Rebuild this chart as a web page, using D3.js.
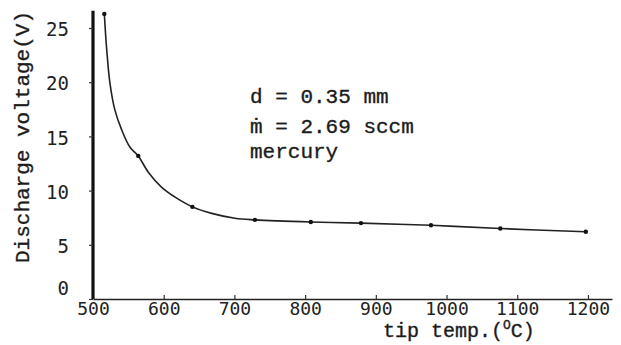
<!DOCTYPE html>
<html>
<head>
<style>
  body {
    margin: 0;
    background-color: #ffffff;
  }

  .tick-label {
    font-family: "DejaVu Sans Mono", monospace;
    font-size: 19px;
    fill: #222;
  }

  .type {
    font-family: "Liberation Mono", "DejaVu Sans Mono", monospace;
    font-size: 21px;
    fill: #1c1c1c;
    stroke: #1c1c1c;
    stroke-width: 0.35px;
  }
</style>
  <script src="https://d3js.org/d3.v7.min.js"></script>
</head>
<body>
<script>
  // measured points (dots on the curve)
  const tipTemp = [516, 564, 640.5, 729, 808, 879, 978, 1076, 1197];
  const voltage = [26.3, 13.2, 8.5, 7.3, 7.1, 7.0, 6.8, 6.5, 6.2];

  const traceTemp = [519.4, 524, 531.1, 540.6, 552.3, 578.2, 597.2, 618.4, 667.9, 700.8];
  const traceVolt = [23.0, 19.9, 17.4, 15.6, 14.0, 11.7, 10.3, 9.3, 7.9, 7.45];

  const xTicks = [500, 600, 700, 800, 900, 1000, 1100, 1200];
  const yTicks = [0, 5, 10, 15, 20, 25];

  const notes = ['d = 0.35 mm', '\u1E41 = 2.69 sccm', 'mercury'];

  const width = 621;
  const height = 345;

  const svg = d3.select('body')
    .append('svg')
    .attr('width', width)
    .attr('height', height);

  const x = d3.scaleLinear()
    .domain([500, 1234])
    .range([93, 612]);

  const y = d3.scaleLinear()
    .domain([0, 25])
    .range([299, 28]);

  // x axis, ticks pointing up into the plot
  const xAxis = svg.append('g')
    .attr('transform', `translate(0,${y(0)})`)
    .call(d3.axisBottom(x)
      .tickValues(xTicks)
      .tickFormat(d3.format('d'))
      .tickSize(-4)
      .tickSizeOuter(0)
      .tickPadding(5));

  xAxis.select('.domain')
    .attr('stroke', '#222')
    .attr('stroke-width', 1.6);

  xAxis.selectAll('.tick line')
    .attr('stroke', '#333')
    .attr('stroke-width', 1.2);

  xAxis.selectAll('.tick text')
    .attr('class', 'tick-label')
    .attr('fill', null)
    .attr('font-size', null)
    .attr('font-family', null)
    .style('font-size', '18px')
    .attr('dy', '0.62em');

  // y axis, the heavy vertical line
  const yAxis = svg.append('g')
    .attr('transform', `translate(${x(500)},0)`)
    .call(d3.axisLeft(y)
      .tickValues(yTicks)
      .tickFormat(d3.format('d'))
      .tickSize(4)
      .tickSizeOuter(0)
      .tickPadding(20));

  yAxis.select('.domain')
    .attr('d', `M0,${y(26.6)}V${y(0)}`)
    .attr('stroke', '#111')
    .attr('stroke-width', 3.2);

  yAxis.selectAll('.tick line')
    .attr('stroke', '#333')
    .attr('stroke-width', 1.2);

  yAxis.selectAll('.tick text')
    .attr('class', 'tick-label')
    .attr('fill', null)
    .attr('font-size', null)
    .attr('font-family', null)
    .attr('dy', d => d === 0 ? '-0.25em' : '0.4em');

  // curve through dots and traced points
  const curvePts = tipTemp.map((t, i) => [t, voltage[i]])
    .concat(traceTemp.map((t, i) => [t, traceVolt[i]]))
    .sort((a, b) => a[0] - b[0]);

  const line = d3.line()
    .x(d => x(d[0]))
    .y(d => y(d[1]))
    .curve(d3.curveCatmullRom.alpha(0.5));

  svg.append('path')
    .datum(curvePts)
    .attr('d', line)
    .attr('fill', 'none')
    .attr('stroke', '#222')
    .attr('stroke-width', 1.6);

  svg.selectAll('.dot')
    .data(tipTemp)
    .join('circle')
    .attr('class', 'dot')
    .attr('cx', d => x(d))
    .attr('cy', (d, i) => y(voltage[i]))
    .attr('r', 2.2)
    .attr('fill', '#111');

  // axis titles
  svg.append('text')
    .attr('class', 'type')
    .attr('transform', 'translate(29,137) rotate(-90)')
    .attr('text-anchor', 'middle')
    .text('Discharge voltage(V)');

  const xTitle = svg.append('text')
    .attr('class', 'type')
    .style('font-size', '20px')
    .attr('x', 383)
    .attr('y', 337);

  xTitle.append('tspan').text('tip temp.(');
  xTitle.append('tspan')
    .attr('font-size', '13px')
    .attr('dy', -8)
    .text('O');
  xTitle.append('tspan')
    .attr('dy', 8)
    .text('C)');

  // annotation block
  svg.selectAll('.note')
    .data(notes)
    .join('text')
    .attr('class', 'note type')
    .attr('x', 250)
    .attr('y', (d, i) => [103, 133, 158][i])
    .text(d => d);
</script>
</body>
</html>
